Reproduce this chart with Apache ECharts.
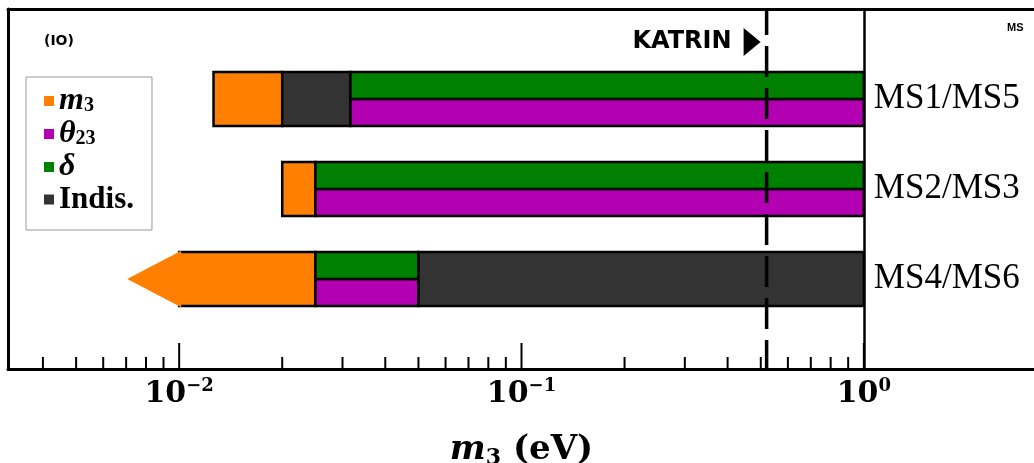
<!DOCTYPE html>
<html>
<head>
<meta charset="utf-8">
<script src="https://cdn.jsdelivr.net/npm/echarts@6/dist/echarts.min.js"></script>
<style>
  html, body { margin: 0; padding: 0; background: #fff; }
  #chart { width: 1034px; height: 463px; }
</style>
</head>
<body>
<div id="chart"></div>
<script>
// Mass-ordering scenarios, one bar per row (top to bottom)
const rowNames = ['MS1/MS5', 'MS2/MS3', 'MS4/MS6'];

// Segments: [from (eV), to (eV), row index, band]; band 0 = full height, 1 = upper half, 2 = lower half
const m3Segments      = [[0.0126, 0.02, 0, 0], [0.02, 0.025, 1, 0], [0.01, 0.025, 2, 0]];
const m3OpenBelow     = [null, null, 0.00705];   // arrow tip where the m3 range keeps going down
const theta23Segments = [[0.0316, 1, 0, 2], [0.025, 1, 1, 2], [0.025, 0.05, 2, 2]];
const deltaSegments   = [[0.0316, 1, 0, 1], [0.025, 1, 1, 1], [0.025, 0.05, 2, 1]];
const indisSegments   = [[0.02, 0.0316, 0, 0], [0.05, 1, 2, 0]];

// KATRIN upper bound (eV)
const katrinLimit = [0.52];
// Upper end of the scanned m3 range (eV)
const scanEnd = 1;

// Axis ticks (eV)
const majorTicks = [0.01, 0.1, 1];
const minorTicks = [0.004, 0.005, 0.006, 0.007, 0.008, 0.009,
                    0.02, 0.03, 0.04, 0.05, 0.06, 0.07, 0.08, 0.09,
                    0.2, 0.3, 0.4, 0.5, 0.6, 0.7, 0.8, 0.9];

const xMin = Math.pow(10, -2.5);
const xMax = Math.pow(10, 0.5);
const yMin = 0, yMax = 4;

const colors = { m3: '#ff8000', theta23: '#b200b2', delta: '#008000', indis: '#333333' };

const serifBold = 'DejaVu Serif';
const timesLike = 'Liberation Serif';
const HALF = 0.3;

function segmentRenderer(color, openBelow) {
  return function (params, api) {
    const from = api.value(0), to = api.value(1);
    const row = api.value(2) + 1, band = api.value(3);
    const l = api.coord([from, row]);
    const r = api.coord([to, row]);
    const up = api.coord([from, row - HALF])[1];
    const dn = api.coord([from, row + HALF])[1];
    const yTop = Math.min(up, dn), yBot = Math.max(up, dn), cy = l[1];
    const y0 = band === 2 ? cy : yTop;
    const y1 = band === 1 ? cy : yBot;
    const children = [{
      type: 'rect',
      shape: { x: l[0], y: y0, width: r[0] - l[0], height: y1 - y0 },
      style: { fill: color, stroke: '#000', lineWidth: 2.5 }
    }];
    const tip = openBelow ? openBelow[params.dataIndex] : null;
    if (tip) {
      const t = api.coord([tip, row]);
      children.push({
        type: 'polygon',
        shape: { points: [[t[0], cy], [l[0] + 2, yTop - 1.2], [l[0] + 2, yBot + 1.2]] },
        style: { fill: color }
      });
    }
    return { type: 'group', children: children };
  };
}

function tickRenderer(len) {
  return function (params, api) {
    const p = api.coord([api.value(0), yMax]);
    return {
      type: 'line',
      shape: { x1: p[0], y1: p[1], x2: p[0], y2: p[1] - len },
      style: { stroke: '#000', lineWidth: 2 }
    };
  };
}

function segmentSeries(name, data, color, openBelow) {
  return {
    name: name,
    type: 'custom',
    renderItem: segmentRenderer(color, openBelow),
    itemStyle: { color: color },
    encode: { x: [0, 1], y: 2 },
    data: data,
    z: 3
  };
}

const legendText = {
  'm3': '{mi|m}{sub|3}',
  'θ23': '{mi|θ}{sub|23}',
  'δ': '{mi|δ}',
  'Indis.': '{b|Indis.}'
};

const chart = echarts.init(document.getElementById('chart'));

chart.setOption({
  backgroundColor: '#fff',
  animation: false,
  grid: { left: 8, right: -1, top: 9, bottom: 94, containLabel: false, outerBoundsMode: 'none' },
  legend: {
    orient: 'vertical',
    left: 26,
    top: 77,
    padding: [8, 18, 15, 18],
    itemGap: 1,
    itemWidth: 10,
    itemHeight: 10,
    icon: 'rect',
    itemStyle: { borderWidth: 0 },
    borderColor: '#999',
    borderWidth: 1,
    backgroundColor: '#fff',
    selectedMode: false,
    data: ['m3', 'θ23', 'δ', 'Indis.'],
    formatter: function (name) { return legendText[name]; },
    textStyle: {
      color: '#000',
      lineHeight: 30,
      rich: {
        mi: { fontFamily: timesLike, fontStyle: 'italic', fontWeight: 'bold', fontSize: 32, lineHeight: 30 },
        sub: { fontFamily: timesLike, fontWeight: 'bold', fontSize: 20, lineHeight: 8, verticalAlign: 'bottom' },
        b: { fontFamily: timesLike, fontWeight: 'bold', fontSize: 31, lineHeight: 30 }
      }
    }
  },
  xAxis: [{
    type: 'log',
    logBase: 10,
    min: xMin,
    max: xMax,
    position: 'bottom',
    axisLine: { show: true, onZero: false, lineStyle: { color: '#000', width: 3 } },
    axisTick: { show: false },
    splitLine: { show: false },
    minorTick: { show: false },
    axisLabel: {
      margin: 8,
      showMinLabel: true,
      showMaxLabel: true,
      formatter: function (v) {
        const e = Math.log10(v);
        const r = Math.round(e);
        if (Math.abs(e - r) > 1e-6) return '';
        return '{b|10}{s|' + (r < 0 ? '\u2212' + (-r) : r) + '}';
      },
      rich: {
        b: { fontFamily: serifBold, fontWeight: 'bold', fontSize: 30, lineHeight: 34, color: '#000' },
        s: { fontFamily: serifBold, fontWeight: 'bold', fontSize: 18, lineHeight: 20, verticalAlign: 'top', color: '#000' }
      }
    },
    name: '{mi|m}{sub|3}{b| (eV)}',
    nameLocation: 'middle',
    nameGap: 62,
    nameTextStyle: {
      rich: {
        mi: { fontFamily: serifBold, fontStyle: 'italic', fontWeight: 'bold', fontSize: 34, lineHeight: 38, color: '#000' },
        sub: { fontFamily: serifBold, fontWeight: 'bold', fontSize: 22, lineHeight: 8, verticalAlign: 'bottom', color: '#000' },
        b: { fontFamily: serifBold, fontWeight: 'bold', fontSize: 34, lineHeight: 38, color: '#000' }
      }
    }
  }, {
    type: 'log',
    logBase: 10,
    min: xMin,
    max: xMax,
    position: 'top',
    axisLine: { show: true, onZero: false, lineStyle: { color: '#000', width: 3 } },
    axisTick: { show: false },
    axisLabel: { show: false },
    splitLine: { show: false }
  }],
  yAxis: {
    type: 'value',
    inverse: true,
    min: yMin,
    max: yMax,
    axisLine: { show: true, onZero: false, lineStyle: { color: '#000', width: 3 } },
    axisTick: { show: false },
    axisLabel: { show: false },
    splitLine: { show: false }
  },
  graphic: [
    { type: 'text', left: 44, top: 34, style: { text: '(IO)', fontFamily: 'DejaVu Sans', fontWeight: 'bold', fontSize: 14, fill: '#000' } },
    { type: 'text', left: 1007, top: 22, style: { text: 'MS', fontFamily: 'Liberation Sans', fontWeight: 'bold', fontSize: 11, fill: '#000' } }
  ],
  series: [
    Object.assign(segmentSeries('m3', m3Segments, colors.m3, m3OpenBelow), {
      markLine: {
        silent: true,
        symbol: ['none', 'none'],
        label: { show: false },
        lineStyle: { color: '#000', width: 2.5, type: 'solid' },
        data: [{ xAxis: scanEnd }]
      }
    }),
    segmentSeries('θ23', theta23Segments, colors.theta23),
    segmentSeries('δ', deltaSegments, colors.delta),
    segmentSeries('Indis.', indisSegments, colors.indis),
    {
      name: 'rowLabels',
      type: 'custom',
      data: rowNames.map(function (n, i) { return [scanEnd, i]; }),
      encode: { x: 0, y: 1 },
      renderItem: function (params, api) {
        const p = api.coord([api.value(0), api.value(1) + 1]);
        return {
          type: 'text', x: p[0] + 10, y: p[1],
          style: { text: rowNames[params.dataIndex], fontFamily: timesLike, fontSize: 35, fill: '#000', align: 'left', verticalAlign: 'middle' }
        };
      },
      z: 4
    },
    {
      name: 'katrin',
      type: 'custom',
      data: katrinLimit.map(function (v) { return [v]; }),
      encode: { x: 0 },
      renderItem: function (params, api) {
        const v = api.value(0);
        const top = api.coord([v, yMin]);
        const bot = api.coord([v, yMax]);
        const x = top[0], y = top[1];
        return {
          type: 'group',
          children: [
            { type: 'line', shape: { x1: x, y1: y, x2: bot[0], y2: bot[1] },
              style: { stroke: '#000', lineWidth: 3.5, lineDash: [31, 11], lineDashOffset: 5 } },
            { type: 'text', x: x - 35, y: y + 33,
              style: { text: 'KATRIN', fontFamily: 'DejaVu Sans', fontWeight: 'bold', fontSize: 24, fill: '#000', align: 'right', verticalAlign: 'middle' } },
            { type: 'polygon', shape: { points: [[x - 23, y + 19], [x - 6, y + 33], [x - 23, y + 47]] },
              style: { fill: '#000' } }
          ]
        };
      },
      z: 5
    },
    {
      name: 'majorTicks',
      type: 'custom',
      data: majorTicks.map(function (v) { return [v]; }),
      encode: { x: 0 },
      renderItem: tickRenderer(26),
      z: 4
    },
    {
      name: 'minorTicks',
      type: 'custom',
      data: minorTicks.map(function (v) { return [v]; }),
      encode: { x: 0 },
      renderItem: tickRenderer(12),
      z: 4
    }
  ]
});
</script>
</body>
</html>
